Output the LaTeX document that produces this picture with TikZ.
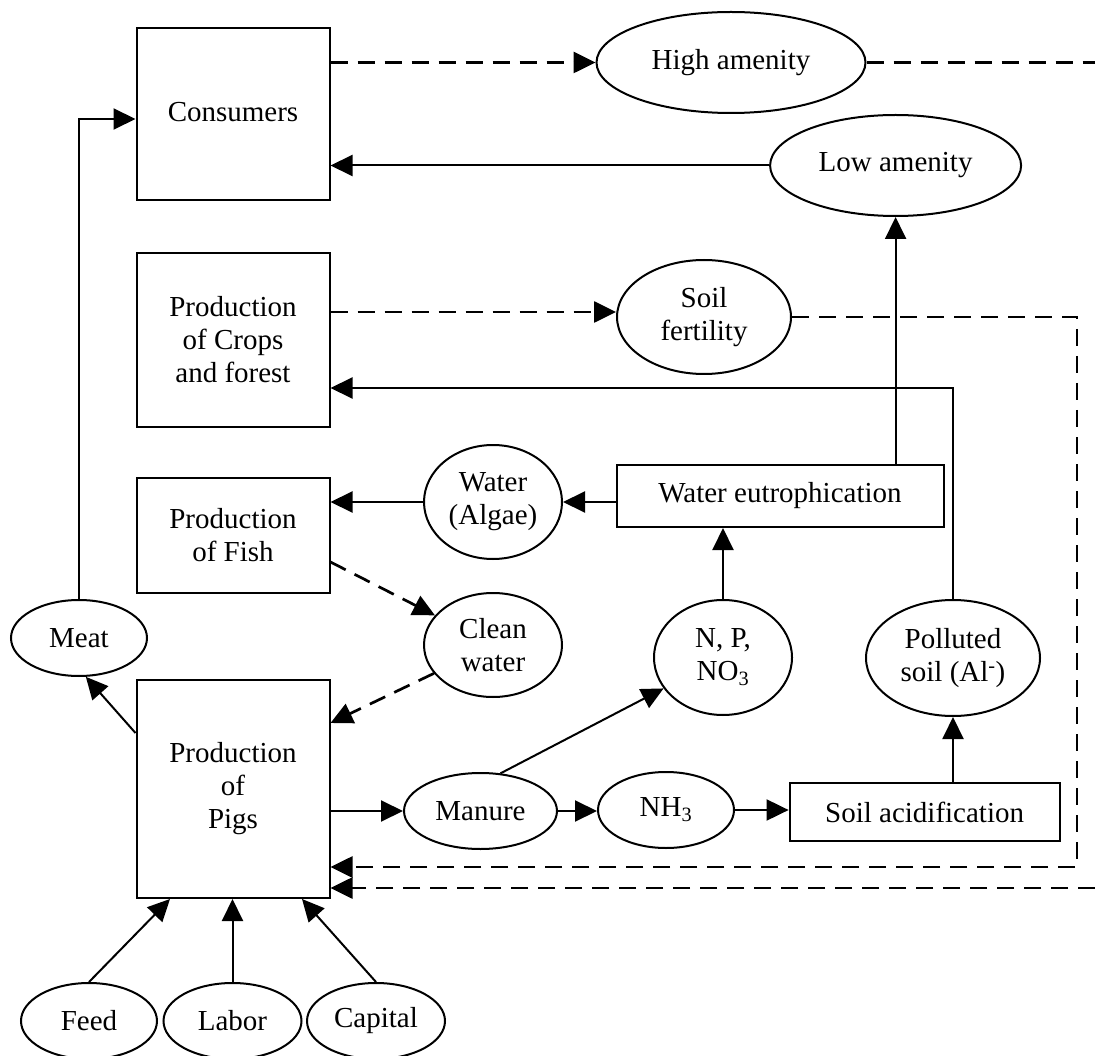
\documentclass[tikz,border=0pt]{standalone}
\usepackage{fontspec}
\setmainfont{Liberation Serif}
\usetikzlibrary{arrows.meta,shapes.geometric}
\begin{document}
\begin{tikzpicture}[x=1pt,y=-1pt,line width=2pt,
  txt/.style={font=\fontsize{29}{33}\selectfont, align=center},
  box/.style={txt, draw, rectangle, inner sep=0pt},
  oval/.style={txt, draw, ellipse, inner sep=0pt},
  arr/.style={-{Triangle[length=22pt,width=21pt]}},
  dsh/.style={line width=2.7pt, dash pattern=on 17pt off 10pt}]
\useasboundingbox (0,0) rectangle (1095,1056);

% boxes
\node[box, minimum width=193pt, minimum height=172pt] (cons) at (233,114) {\raisebox{4pt}{Consumers}};
\node[box, minimum width=193pt, minimum height=174pt] (crops) at (233,340) {Production\\of Crops\\and forest};
\node[box, minimum width=193pt, minimum height=115pt] (fish) at (233,535.5) {Production\\of Fish};
\node[box, minimum width=193pt, minimum height=218pt] (pigs) at (233,789) {\raisebox{12pt}{\begin{tabular}{@{}c@{}}Production\\of\\Pigs\end{tabular}}};
\node[box, minimum width=327pt, minimum height=62pt] (weu) at (780,496) {Water eutrophication};
\node[box, minimum width=270pt, minimum height=58pt] (sacid) at (924.6,812) {Soil acidification};

% ellipses
\node[oval, minimum width=269pt, minimum height=101pt] (high) at (731,62.5) {High amenity};
\node[oval, minimum width=251pt, minimum height=101pt] (low) at (895.6,165.5) {Low amenity};
\node[oval, minimum width=174pt, minimum height=114pt] (soil) at (704,317) {Soil\\fertility};
\node[oval, minimum width=138pt, minimum height=114pt] (alg) at (493,502) {Water\\(Algae)};
\node[oval, minimum width=138pt, minimum height=104pt] (clean) at (493,645) {Clean\\water};
\node[oval, minimum width=136pt, minimum height=76pt] (meat) at (79,638) {Meat};
\node[oval, minimum width=153pt, minimum height=76pt] (manure) at (480.5,811) {Manure};
\node[oval, minimum width=136pt, minimum height=76pt] (nh3) at (666,810) {NH\textsubscript{3}};
\node[oval, minimum width=138pt, minimum height=115pt] (npno) at (723,657.5) {N, P,\\NO\textsubscript{3}};
\node[oval, minimum width=174pt, minimum height=116pt] (pol) at (953,658) {Polluted\\soil (Al\textsuperscript{-})};
\node[oval, minimum width=136pt, minimum height=76pt] (feed) at (89,1021) {Feed};
\node[oval, minimum width=138pt, minimum height=76pt] (labor) at (232.5,1021) {Labor};
\node[oval, minimum width=138pt, minimum height=76pt] (cap) at (376,1021) {Capital};

\coordinate (hr) at (1095,62.5);
\coordinate (c1) at (1077,867);
\coordinate (c2) at (1095,888);

% dashed connectors
\draw[dsh,arr] (cons.east |- high.west) -- (high.west);
\draw[dsh] (high.east) -- (hr);
\draw[dsh,arr] ([yshift=5pt]soil.west -| crops.east) -- ([yshift=5pt]soil.west);
\draw[dsh,arr] (soil.east) -| (c1) -- (c1 -| pigs.east);
\draw[dsh,arr] (c2) -- (c2 -| pigs.east);
\draw[dsh,arr] ([yshift=-26.5pt]fish.east) -- (clean);
\draw[dsh,arr] (clean) -- ([yshift=66pt]pigs.east);

% solid connectors
\draw[arr] (low.west) -- (low.west -| cons.east);
\draw[arr] (meat.north) |- ([yshift=-5pt]cons.west);
\draw[arr] (weu.north -| low.south) -- (low.south);
\draw[arr] (pol.north) |- ([yshift=-48pt]crops.east);
\draw[arr] (weu.west |- alg.east) -- (alg.east);
\draw[arr] (alg.west) -- (alg.west -| fish.east);
\draw[arr] ([yshift=56pt]pigs.west) -- (meat.-80);
\draw[arr] (pigs.east |- manure.west) -- (manure.west);
\draw[arr] (manure.east) -- (manure.east -| nh3.west);
\draw[arr] (nh3.east) -- (nh3.east -| sacid.west);
\draw[arr] (sacid.north -| pol.south) -- (pol.south);
\draw[arr] (manure.62) -- (npno);
\draw[arr] (npno.north) -- (npno.north |- weu.south);
\draw[arr] (feed.north) -- ([xshift=-63pt]pigs.south);
\draw[arr] (labor.north) -- (labor.north |- pigs.south);
\draw[arr] (cap.north) -- ([xshift=69pt]pigs.south);
\end{tikzpicture}
\end{document}
